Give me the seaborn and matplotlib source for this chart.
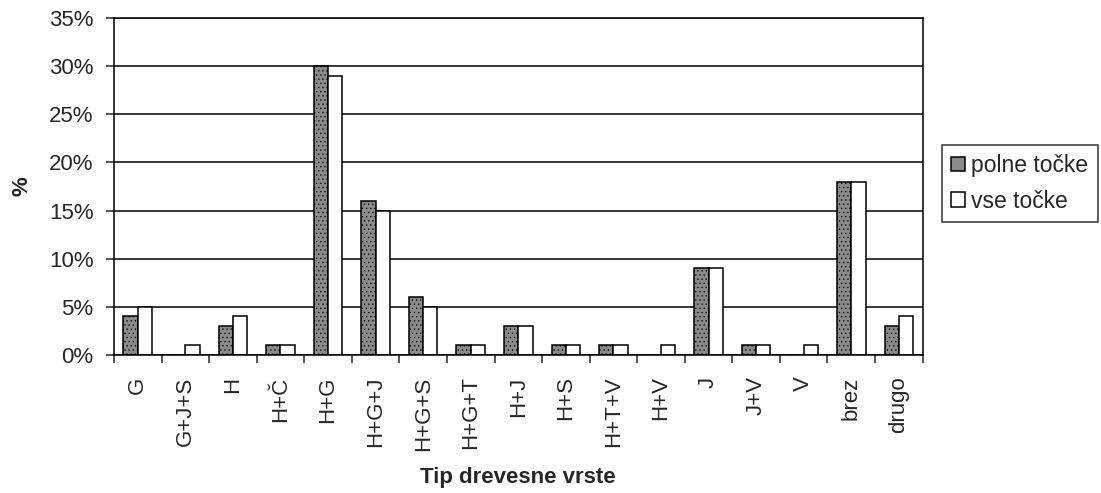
import numpy as np
import pandas as pd
import matplotlib
matplotlib.use("Agg")
import matplotlib.pyplot as plt
from matplotlib.ticker import FuncFormatter, FixedLocator
import seaborn as sns

# podatki
kategorije = ["G", "G+J+S", "H", "H+Č", "H+G", "H+G+J", "H+G+S", "H+G+T", "H+J",
              "H+S", "H+T+V", "H+V", "J", "J+V", "V", "brez", "drugo"]
polne_tocke = [4, 0, 3, 1, 30, 16, 6, 1, 3, 1, 1, 0, 9, 1, 0, 18, 3]
vse_tocke = [5, 1, 4, 1, 29, 15, 5, 1, 3, 1, 1, 1, 9, 1, 1, 18, 4]
serije = ["polne točke", "vse točke"]

df = pd.DataFrame({
    "tip": kategorije * 2,
    "delez": polne_tocke + vse_tocke,
    "serija": [serije[0]] * len(kategorije) + [serije[1]] * len(kategorije),
})

sns.set_style("white")
plt.rcParams["font.family"] = ["Liberation Sans", "DejaVu Sans"]
plt.rcParams["hatch.linewidth"] = 0.4
plt.rcParams["hatch.color"] = "#555555"

fig = plt.figure(figsize=(11.01, 4.93), dpi=100)
ax = fig.add_axes([0.1035, 0.28, 0.7345, 0.6835])

sns.barplot(data=df, x="tip", y="delez", hue="serija", order=kategorije,
            hue_order=serije, palette=["#8a8a8a", "white"], width=0.6,
            edgecolor="black", linewidth=1.1, ax=ax, legend=True)

for b in ax.containers[0]:
    b.set_hatch("....")

ax.set_ylim(0, 35)
ax.set_xlim(-0.5, len(kategorije) - 0.5)
ax.set_yticks(np.arange(0, 36, 5))
ax.yaxis.set_major_formatter(FuncFormatter(lambda v, p: f"{v:.0f}%"))
ax.grid(axis="y", color="black", linewidth=1.1)
ax.set_axisbelow(True)

ax.xaxis.set_minor_locator(FixedLocator(np.arange(-0.5, len(kategorije), 1)))
ax.tick_params(axis="x", which="major", length=0, pad=15.5, labelsize=16, rotation=90)
ax.tick_params(axis="x", which="minor", length=5.8, width=1.1, direction="out", bottom=True)
ax.tick_params(axis="y", length=5.8, width=1.1, direction="out", left=True,
               labelsize=16, pad=9)

for s in ax.spines.values():
    s.set_color("black")
    s.set_linewidth(1.1)

ax.set_xlabel("Tip drevesne vrste", fontsize=16, fontweight="bold", labelpad=12)
ax.set_ylabel("%", fontsize=16, fontweight="bold", labelpad=12)

ax.get_legend().remove()
h, l = ax.get_legend_handles_labels()
leg = fig.legend(h, l, loc="upper left", bbox_to_anchor=(0.8556, 0.706), frameon=True,
                 fancybox=False, edgecolor="black", fontsize=16.5, handlelength=0.6,
                 handleheight=0.6, handletextpad=0.28, borderpad=0.4, labelspacing=0.55,
                 borderaxespad=0)
leg.get_frame().set_linewidth(1.1)

fig.savefig("out.png", dpi=100)
